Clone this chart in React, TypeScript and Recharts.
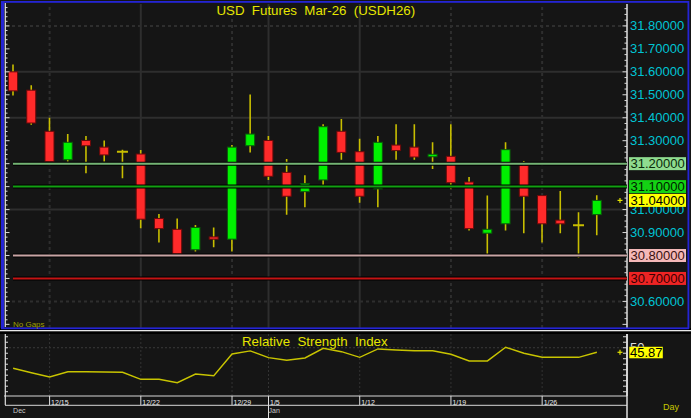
import React from 'react';
import { ComposedChart, Bar, Line, XAxis, YAxis, ReferenceLine } from 'recharts';

// ---------- data ----------
const dates = ['12/11','12/12','12/15','12/16','12/17','12/18','12/19','12/22','12/23','12/24','12/25','12/26','12/29','12/30','1/5','1/6','1/7','1/8','1/9','1/12','1/13','1/14','1/15','1/16','1/19','1/20','1/21','1/22','1/23','1/26','1/27','1/28','1/29'];
const opens = [31.600,31.520,31.341,31.217,31.301,31.272,31.252,31.242,30.961,30.914,30.825,30.881,30.871,31.278,31.301,31.162,31.078,31.129,31.341,31.252,31.090,31.281,31.272,31.230,31.232,31.120,30.897,30.938,31.193,31.061,30.954,30.932,30.978];
const highs = [31.632,31.541,31.400,31.329,31.320,31.301,31.261,31.259,30.981,30.961,30.933,30.922,31.281,31.501,31.320,31.220,31.149,31.372,31.394,31.309,31.320,31.372,31.372,31.293,31.372,31.142,31.061,31.293,31.212,31.061,31.081,30.988,31.062];
const lows = [31.497,31.370,31.200,31.209,31.158,31.209,31.136,30.919,30.857,30.800,30.817,30.836,30.817,31.249,31.129,30.978,31.010,31.101,31.217,31.030,31.010,31.217,31.217,31.177,31.090,30.909,30.800,30.909,30.897,30.857,30.897,30.790,30.888];
const closes = [31.517,31.377,31.209,31.293,31.278,31.238,31.252,30.958,30.917,30.807,30.922,30.871,31.272,31.329,31.145,31.058,31.113,31.361,31.249,31.058,31.293,31.257,31.229,31.241,31.117,30.917,30.914,31.261,31.058,30.938,30.938,30.932,31.040];
const rsiValues = [31.3,27.3,23.4,28.2,28.2,27.9,27.7,21.3,21.3,18.2,26.1,24.6,44.3,47.1,41.0,38.6,40.7,49.5,46.4,41.3,48.9,48.0,47.3,47.3,44.1,38.0,38.0,50.4,45.0,41.3,41.3,41.3,45.87];

const priceTicks = [30.6, 30.9, 31.0, 31.3, 31.4, 31.5, 31.6, 31.7, 31.8];
const levelValues = [30.7, 30.8, 31.04, 31.1, 31.2];
const lastPrice = 31.04;
const gridPrices = [31.8, 31.6, 31.4, 31.0, 30.6];
const dateLabels = ['12/15','12/22','12/29','1/5','1/12','1/19','1/26'];
const monthLabels: Record<string, string> = { '12/11': 'Dec', '1/5': 'Jan' };
const rsiTicks = [10, 15, 20, 25, 30, 35, 40, 45, 50, 55, 60];
const rsiLabel = 50;
const lastRsi = 45.87;
const titleText = 'USD  Futures  Mar-26  (USDH26)';
const rsiTitle = 'Relative  Strength  Index';

const P_DOMAIN: [number, number] = [30.4842, 31.8954];
const R_DOMAIN: [number, number] = [6.1, 62.5];

const data = dates.map((d, i) => ({ d, open: opens[i], high: highs[i], low: lows[i], close: closes[i], rsi: rsiValues[i] }));

// axis tick marks (minor ticks on both price axes)
const k3 = (v: number) => v.toFixed(3);
const minorLeft: number[] = [];
for (let i = 0; i <= 69; i++) minorLeft.push(+(30.5 + i * 0.02).toFixed(3));
const minorRight: number[] = [];
for (let i = 0; i <= 55; i++) minorRight.push(+(30.5 + i * 0.025).toFixed(3));
const leftSet = new Set(minorLeft.map(k3));
const rightSet = new Set(minorRight.map(k3));
const labelSet = new Set(priceTicks.map(k3));
const levelSet = new Set(levelValues.map(k3));
const mainTicks = Array.from(new Set([...minorLeft, ...minorRight, ...priceTicks, ...levelValues].map(k3)))
  .map(Number)
  .sort((a, b) => a - b);
const isMajor = (v: number) => Math.abs(v * 10 - Math.round(v * 10)) < 1e-6;
const rsiAxisTicks = [...rsiTicks, lastRsi];

// ---------- styles ----------
const FONT = '"Liberation Sans", Arial, Helvetica, sans-serif';
const BG = '#151515';
const GRID = '#2e2e2e';
const WICK = '#c8be00';
const UP = '#00f000';
const DOWN = '#ff2a2a';
const CYAN = '#00c4d4';
const YEL = '#e6e600';
const levelStyle: Record<string, { line?: string; box: string; text: string }> = {
  '31.200': { line: '#74b474', box: '#8fdc8f', text: '#0a2a0a' },
  '31.100': { line: '#12a012', box: '#14d214', text: '#001a00' },
  '31.040': { box: '#ffff00', text: '#000000' },
  '30.800': { line: '#c8a4a4', box: '#f4b8b8', text: '#3a1010' },
  '30.700': { line: '#c41414', box: '#ee2424', text: '#3a0000' },
};

// ---------- custom shapes ----------
const Candle = (props: any) => {
  const { x, y, width, height, payload } = props;
  if (x == null || payload == null) return null;
  const top = Math.min(y, y + height);
  const bot = Math.max(y, y + height);
  const range = payload.high - payload.low;
  const k = range > 0 ? (bot - top) / range : 0;
  const py = (v: number) => top + (payload.high - v) * k;
  const cx = x + width / 2;
  const yo = py(payload.open);
  const yc = py(payload.close);
  const wick = <line x1={cx} x2={cx} y1={top} y2={bot} stroke={WICK} strokeWidth={1.6} />;
  if (payload.open === payload.close) {
    return (
      <g>
        {wick}
        <line x1={cx - 5.5} x2={cx + 5.5} y1={yo} y2={yo} stroke={WICK} strokeWidth={2} />
      </g>
    );
  }
  const up = payload.close > payload.open;
  const bt = Math.min(yo, yc);
  const bh = Math.max(2, Math.abs(yc - yo));
  return (
    <g>
      {wick}
      <rect x={x + 0.5} y={bt} width={width - 1} height={bh} fill={up ? UP : DOWN} stroke={up ? '#0a5a0a' : '#6a0a0a'} strokeWidth={1} />
    </g>
  );
};

const MainTick = (props: any) => {
  const { y, payload } = props;
  const v = Number(payload.value);
  const key = k3(v);
  const parts: any[] = [];
  if (leftSet.has(key)) {
    const len = isMajor(v) ? 4.5 : 2.5;
    parts.push(<line key="l" x1={5} x2={5 + len} y1={y} y2={y} stroke="#d8d8d8" strokeWidth={1} />);
  }
  if (rightSet.has(key)) {
    const len = isMajor(v) ? 4.5 : 2.5;
    parts.push(<line key="r" x1={627 - len} x2={627} y1={y} y2={y} stroke="#d8d8d8" strokeWidth={1} />);
  }
  if (labelSet.has(key)) {
    parts.push(
      <text key="t" x={630} y={y} dominantBaseline="central" fill={CYAN} fontSize={13} fontFamily={FONT}>
        {v.toFixed(5)}
      </text>
    );
  }
  if (levelSet.has(key)) {
    const st = levelStyle[key];
    if (st.line) {
      parts.push(<line key="lb" x1={13} x2={627} y1={y} y2={y} stroke="#000" strokeWidth={4} />);
      parts.push(<line key="lc" x1={13} x2={627} y1={y} y2={y} stroke={st.line} strokeWidth={2} />);
    }
    if (v === lastPrice) {
      parts.push(
        <g key="m" stroke={YEL} strokeWidth={1.2}>
          <line x1={617.5} x2={622.5} y1={y} y2={y} />
          <line x1={620} x2={620} y1={y - 2.5} y2={y + 2.5} />
        </g>
      );
    }
    parts.push(<rect key="bx" x={629} y={y - 6.5} width={57} height={13} fill={st.box} />);
    parts.push(
      <text key="bt" x={630.5} y={y} dominantBaseline="central" fill={st.text} fontSize={13} fontFamily={FONT}>
        {v.toFixed(5)}
      </text>
    );
  }
  return <g>{parts}</g>;
};

const RsiTick = (props: any) => {
  const { y, payload } = props;
  const v = Number(payload.value);
  if (v === lastRsi) {
    return (
      <g>
        <g stroke={YEL} strokeWidth={1.2}>
          <line x1={617.5} x2={622.5} y1={y} y2={y} />
          <line x1={620} x2={620} y1={y - 2.5} y2={y + 2.5} />
        </g>
        <rect x={629.3} y={y - 5.5} width={33.5} height={11.5} fill="#ffff00" />
        <text x={630} y={y + 0.5} dominantBaseline="central" fill="#000" fontSize={13} fontFamily={FONT}>
          {v.toFixed(2)}
        </text>
      </g>
    );
  }
  return (
    <g>
      <line x1={5} x2={8} y1={y} y2={y} stroke="#d8d8d8" strokeWidth={1} />
      <line x1={623} x2={627} y1={y} y2={y} stroke="#d8d8d8" strokeWidth={1} />
      {v === rsiLabel && (
        <g>
          <clipPath id="rsi50clip">
            <rect x={628} y={y - 12} width={40} height={11} />
          </clipPath>
          <text x={630} y={y} dominantBaseline="central" fill="#dddddd" fontSize={13} fontFamily={FONT} clipPath="url(#rsi50clip)">
            {String(v)}
          </text>
        </g>
      )}
    </g>
  );
};

const DateTick = (props: any) => {
  const { x, payload } = props;
  const v = String(payload.value);
  const label = dateLabels.includes(v);
  const month = monthLabels[v];
  return (
    <g>
      {label && <line x1={x} x2={x} y1={66} y2={month ? 88 : 75} stroke="#e0e0e0" strokeWidth={1} />}
      {label && (
        <text x={x + 1.5} y={74.5} fill="#ececec" fontSize={7} fontFamily={FONT}>
          {v}
        </text>
      )}
      {month && (
        <text x={x} y={83} fill="#c8c8c8" fontSize={7} fontFamily={FONT}>
          {month}
        </text>
      )}
    </g>
  );
};

const dashedDates = ['12/15', '12/29', '1/19', '1/26'];

export default function App() {
  return (
    <div style={{ position: 'absolute', left: 0, top: 0, width: 691, height: 418, background: BG, overflow: 'hidden' }}>
      <div style={{ position: 'absolute', left: 0, top: 0 }}>
        <ComposedChart width={691} height={328} data={data} margin={{ top: 4, right: 0, left: 4, bottom: 0 }}>
          <XAxis dataKey="d" scale="band" hide padding={{ left: 0, right: 21 }} />
          {gridPrices.map((g) => (
            <ReferenceLine key={'g' + g} yAxisId="p" y={g} stroke={GRID} strokeWidth={2} strokeDasharray={g === 31.8 || g === 30.6 ? '3 3' : undefined} zIndex={-100} />
          ))}
          {dateLabels.map((d) => (
            <ReferenceLine key={'v' + d} yAxisId="p" x={d} stroke={GRID} strokeWidth={2} strokeDasharray={dashedDates.includes(d) ? '3 3' : undefined} zIndex={-100} />
          ))}
          <Bar yAxisId="p" dataKey={(d: any) => [d.low, d.high]} barSize={10} shape={Candle} isAnimationActive={false} />
          <YAxis yAxisId="p" orientation="right" width={64} type="number" domain={P_DOMAIN} allowDataOverflow ticks={mainTicks} interval={0} tick={<MainTick />} tickLine={false} axisLine={{ stroke: '#e0e0e0', strokeWidth: 1.5 }} />
        </ComposedChart>
      </div>
      <div style={{ position: 'absolute', left: 0, top: 330 }}>
        <ComposedChart width={691} height={88} data={data} margin={{ top: 4, right: 0, left: 4, bottom: 0 }}>
          <XAxis dataKey="d" scale="band" padding={{ left: 0, right: 21 }} height={22} interval={0} tick={<DateTick />} tickLine={false} axisLine={{ stroke: '#d8d8d8', strokeWidth: 1 }} />
          <ReferenceLine yAxisId="r" y={rsiLabel} stroke="#3a3a3a" strokeWidth={1} strokeDasharray="2 2" />
          {dateLabels.map((d) => (
            <ReferenceLine key={'rv' + d} yAxisId="r" x={d} stroke="#333" strokeWidth={1} strokeDasharray="2 2" />
          ))}
          <Line yAxisId="r" dataKey="rsi" stroke="#c8c400" strokeWidth={1.4} dot={false} isAnimationActive={false} />
          <YAxis yAxisId="r" orientation="right" width={64} type="number" domain={R_DOMAIN} allowDataOverflow ticks={rsiAxisTicks} interval={0} tick={<RsiTick />} tickLine={false} axisLine={{ stroke: '#e0e0e0', strokeWidth: 1.5 }} />
        </ComposedChart>
      </div>
      <svg width={691} height={418} style={{ position: 'absolute', left: 0, top: 0, pointerEvents: 'none' }}>
        <rect x={0} y={328} width={691} height={6} fill="#000" />
        <rect x={0} y={330} width={691} height={1.3} fill="#e8e8e8" />
        <rect x={1} y={1} width={688} height={1.8} fill="#2424d4" />
        <rect x={1} y={1} width={3.2} height={328} fill="#2424d4" />
        <rect x={1} y={327.4} width={688} height={1.8} fill="#2424d4" />
        <rect x={687.5} y={1} width={1.8} height={328} fill="#2424d4" />
        <line x1={5.3} x2={5.3} y1={3} y2={327} stroke="#e0e0e0" strokeWidth={1.2} />
        <line x1={5.3} x2={5.3} y1={334} y2={405} stroke="#e0e0e0" strokeWidth={1.2} />
        <line x1={5} x2={627} y1={405.3} y2={405.3} stroke="#d8d8d8" strokeWidth={1} />
        <line x1={627} x2={627} y1={334} y2={418} stroke="#e0e0e0" strokeWidth={1.5} />
        <text x={315.8} y={10.5} textAnchor="middle" dominantBaseline="central" fill={YEL} fontSize={13.3} fontFamily={FONT} style={{ whiteSpace: 'pre' }}>{titleText}</text>
        <text x={314.8} y={341.7} textAnchor="middle" dominantBaseline="central" fill={YEL} fontSize={13.3} fontFamily={FONT} style={{ whiteSpace: 'pre' }}>{rsiTitle}</text>
        <text x={13} y={324} dominantBaseline="central" fill="#a0a000" fontSize={8} fontFamily={FONT}>No Gaps</text>
        <text x={663} y={407} dominantBaseline="central" fill="#c8c800" fontSize={9} fontFamily={FONT}>Day</text>
      </svg>
    </div>
  );
}
